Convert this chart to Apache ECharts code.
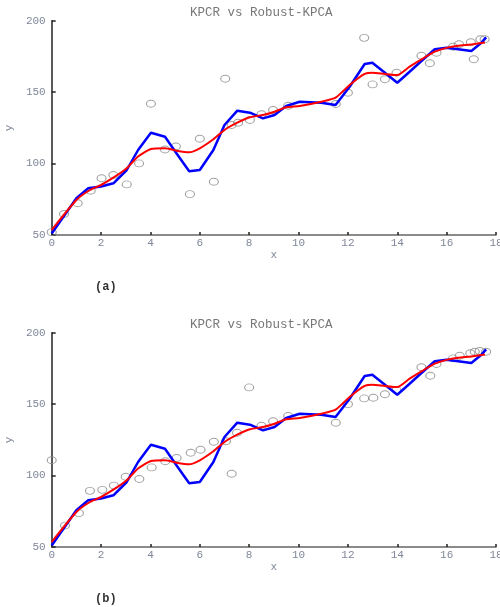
<!DOCTYPE html>
<html>
<head>
<meta charset="utf-8">
<script src="https://cdn.jsdelivr.net/npm/echarts@6/dist/echarts.min.js"></script>
<style>
  html, body { margin: 0; padding: 0; background: #fff; }
  #chart { width: 500px; height: 607px; }
</style>
</head>
<body>
<div id="chart"></div>
<script>
// 折线数据（两幅图相同）
const blueLine = [
  [0, 51], [1.0, 75.7], [1.48, 82.7], [2.0, 84], [2.5, 86.2], [3.04, 95.5], [3.5, 109.5],
  [4.02, 121.6], [4.59, 118.8], [5.06, 107], [5.57, 94.6], [6.0, 95.5], [6.55, 109.5],
  [7.0, 127], [7.52, 137], [8.03, 135.6], [8.56, 131.6], [9.03, 134], [9.5, 140.3],
  [10.05, 143.3], [10.92, 142.6], [11.5, 141], [12.07, 153.8], [12.68, 169.7], [12.99, 170.6],
  [13.5, 163.6], [14.0, 156.6], [14.5, 164.3], [14.98, 171.8], [15.52, 180], [16.0, 181],
  [16.47, 180], [17.0, 178.8], [17.41, 184.6], [17.6, 188.3]
]
const redLine = [
  [0, 53.5], [1, 74.5], [1.55, 81.5], [2, 85], [2.56, 90.8], [3.04, 96.7], [3.5, 104.9],
  [4.02, 110.2], [4.59, 110.7], [5.06, 109], [5.57, 107.9], [6, 110.7], [6.55, 117],
  [7, 123.5], [7.52, 128.6], [8.03, 132.4], [8.56, 134], [9.03, 136.3], [9.5, 139.4],
  [10.05, 140.3], [10.92, 143.3], [11.5, 146.1], [12.07, 155], [12.68, 162.7], [13, 163.6],
  [13.5, 162.7], [14, 162], [14.5, 167.8], [14.98, 172.9], [15.52, 178.3], [16, 181],
  [16.47, 182.5], [17, 183.4], [17.55, 184.8]
]
// 散点 (a)
const pointsA = [
  [0, 52], [0.5, 64.7], [1.05, 72.2], [1.58, 81], [2.02, 89.7], [2.5, 92], [3.04, 85.4],
  [3.54, 100.1], [4.02, 141.9], [4.59, 109.8], [5.03, 111.9], [5.6, 78.6], [6.0, 117.4],
  [6.57, 87.3], [7.03, 159.4], [7.29, 127], [7.55, 128.6], [8.03, 130.5], [8.5, 134.5],
  [8.97, 137.5], [9.58, 140.5], [11.51, 141.7], [12.0, 149.6], [12.66, 188], [13.0, 155.4],
  [13.5, 159], [13.97, 163.6], [14.98, 175.5], [15.32, 170.2], [15.59, 177.6], [16.26, 181.8],
  [16.5, 183.5], [16.98, 184.9], [17.1, 173], [17.37, 187], [17.54, 187]
]
// 散点 (b)
const pointsB = [
  [0, 110.7], [0.54, 65], [1.1, 73.7], [1.55, 89.3], [2.05, 90], [2.52, 93], [3.0, 99.2],
  [3.55, 97.6], [4.05, 105.7], [4.6, 110], [5.06, 112.3], [5.63, 116], [6.03, 118.1],
  [6.57, 123.7], [7.06, 124], [7.29, 101.3], [7.51, 130], [8.0, 161.7], [8.5, 134.9],
  [8.97, 138], [9.58, 141.7], [11.51, 137], [12.0, 150], [12.66, 154], [13.03, 154.5],
  [13.5, 156.9], [13.97, 159.9], [14.98, 175.8], [15.34, 169.9], [15.59, 178.1], [16.26, 182],
  [16.53, 183.9], [16.96, 185.6], [17.14, 186.7], [17.34, 187.2], [17.6, 186.7]
]
const titleText = 'KPCR vs Robust-KPCA'
const panelLabels = ['(a)', '(b)']

const monoFont = '"Liberation Mono", "DejaVu Sans Mono", monospace'
const gridTops = [20.7, 332.7]

const chart = echarts.init(document.getElementById('chart'))

function makeXAxis(i) {
  return {
    gridIndex: i, type: 'value', min: 0, max: 18, interval: 2,
    name: 'x', nameLocation: 'middle', nameGap: 15,
    nameTextStyle: { color: '#7f8799', fontFamily: monoFont, fontSize: 11 },
    axisLine: { lineStyle: { color: '#666', width: 1.5 } },
    axisTick: { inside: true, length: 3, lineStyle: { color: '#222', width: 1.5 } },
    axisLabel: { color: '#7f8799', fontFamily: monoFont, fontSize: 11, margin: 3 },
    splitLine: { show: false }
  }
}
function makeYAxis(i) {
  return {
    gridIndex: i, type: 'value', min: 50, max: 200, interval: 50,
    name: 'y', nameLocation: 'middle', nameGap: 36, nameRotate: 90,
    nameTextStyle: { color: '#7f8799', fontFamily: monoFont, fontSize: 11 },
    axisLine: { show: true, lineStyle: { color: '#222', width: 1.5 } },
    axisTick: { show: true, inside: true, length: 4, lineStyle: { color: '#222', width: 1.5 } },
    axisLabel: { color: '#7f8799', fontFamily: monoFont, fontSize: 11, margin: 6 },
    splitLine: { show: false }
  }
}
function makeSeries(i, pts) {
  return [
    {
      type: 'scatter', xAxisIndex: i, yAxisIndex: i, data: pts,
      symbol: 'circle', symbolSize: [9, 7], clip: false, z: 2,
      itemStyle: { color: 'rgba(0,0,0,0)', borderColor: '#8a8a8a', borderWidth: 1 }
    },
    {
      type: 'line', xAxisIndex: i, yAxisIndex: i, data: blueLine,
      showSymbol: false, z: 3, lineStyle: { color: '#0000ff', width: 2.5 }
    },
    {
      type: 'line', xAxisIndex: i, yAxisIndex: i, data: redLine, smooth: 0.2,
      showSymbol: false, z: 4, lineStyle: { color: '#ff0000', width: 2 }
    }
  ]
}

const option = {
  animation: false,
  grid: gridTops.map(t => ({
    left: 51.7, right: 4, top: t, height: 214.3,
    containLabel: false, outerBoundsMode: 'none'
  })),
  xAxis: [makeXAxis(0), makeXAxis(1)],
  yAxis: [makeYAxis(0), makeYAxis(1)],
  series: makeSeries(0, pointsA).concat(makeSeries(1, pointsB)),
  graphic: [
    { type: 'text', left: 190, top: 6, style: { text: titleText, fill: '#777', font: '12.5px ' + monoFont } },
    { type: 'text', left: 190, top: 318, style: { text: titleText, fill: '#777', font: '12.5px ' + monoFont } },
    { type: 'text', left: 95, top: 281, style: { text: panelLabels[0], fill: '#333', font: 'bold 12px ' + monoFont } },
    { type: 'text', left: 95, top: 593, style: { text: panelLabels[1], fill: '#333', font: 'bold 12px ' + monoFont } }
  ]
}
chart.setOption(option)
</script>
</body>
</html>
